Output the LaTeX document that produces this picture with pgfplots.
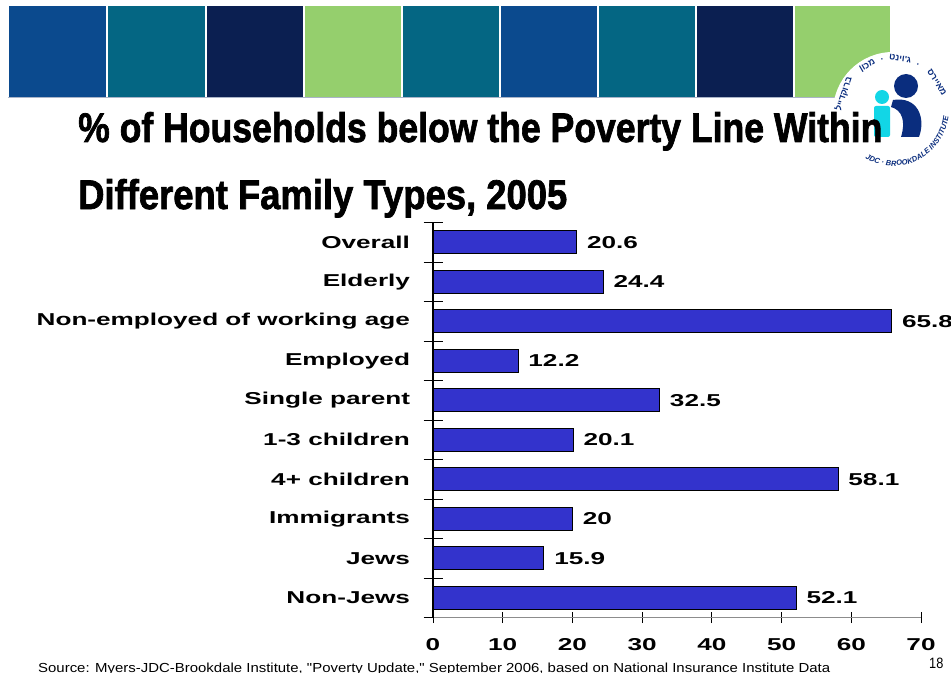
\documentclass[border=0pt]{standalone}
\usepackage{graphicx}
\usepackage{pgfplots}
\pgfplotsset{compat=1.18}
\usepackage{fontspec}
\setmainfont{Liberation Sans}
\usetikzlibrary{decorations.text,calc}
\TeXXeTstate=1
\newfontfamily\lblfont[FakeStretch=1.52]{Liberation Sans}
\newfontface\titlefont[FakeBold=1.8]{Liberation Sans Bold}
\newfontfamily\hebfont[Script=Hebrew]{Liberation Sans}
\newfontfamily\narrowfont[FakeStretch=0.85]{Liberation Sans}
\newcommand\lblsize{\fontsize{17.2bp}{20bp}\selectfont}
\definecolor{cblue}{HTML}{0B4A8E}
\definecolor{cteal}{HTML}{046683}
\definecolor{cnavy}{HTML}{0B1F51}
\definecolor{cgreen}{HTML}{95CF6D}
\definecolor{barblue}{HTML}{3333CC}
\definecolor{logonavy}{HTML}{0A2D7E}
\definecolor{logocyan}{HTML}{12D6E6}
\newcommand\hebword[2]{\node[rotate=#1-90, inner sep=0, anchor=base, text=logonavy, font=\hebfont\bfseries\fontsize{9bp}{10bp}\selectfont] at ($(893bp,-110bp)+(#1:49bp)$) {\beginR #2\endR};}
\begin{document}
\begin{tikzpicture}[x=1bp,y=1bp]
\path[use as bounding box] (0,0) rectangle (951,-673);
\fill[white] (0,0) rectangle (951,-673);
% banner
\foreach \xa/\xb/\c in {8/107/cblue,107/206/cteal,206/304/cnavy,304/402/cgreen,402/500/cteal,500/598/cblue,598/696/cteal,696/794/cnavy,794/891/cgreen}
  \fill[\c] (\xa+0.8,-6) rectangle (\xb-0.8,-97);
\draw[color={rgb,255:red,170;green,180;blue,200}, line width=1.2bp] (8,-97.6) -- (891,-97.6);
% logo
\fill[white] (893,-112) circle (60);
\fill[logonavy] (906,-86) circle (12);
\fill[logonavy] (893,-100) .. controls (918,-96) and (926,-118) .. (919,-137) -- (901,-137) .. controls (906,-121) and (902,-110) .. (891,-107) -- cycle;
\fill[logocyan] (882,-97) circle (7);
\fill[logocyan, rounded corners=2bp] (874,-106) rectangle (890,-137);
\hebword{162}{ברוקדייל}
\hebword{120}{מכון}
\hebword{102}{·}
\hebword{82}{ג'וינט}
\hebword{61}{·}
\hebword{32}{מאיירס}
\path[decorate, decoration={text along path, text align=center,
  text={|\fontsize{7.5bp}{8bp}\selectfont\bfseries\itshape\color{logonavy}|JDC · BROOKDALE INSTITUTE}}]
  (893,-110) ++(212:56) arc[start angle=212, end angle=382, radius=56];
% title
\node[anchor=base west, inner sep=0] at (78,-142) {\resizebox{804bp}{30bp}{\titlefont\% of Households below the Poverty Line Within}};
\node[anchor=base west, inner sep=0] at (78,-209) {\resizebox{489bp}{30bp}{\titlefont Different Family Types, 2005}};
% chart
\begin{axis}[
  at={(433bp,-617.5bp)}, anchor=south west,
  scale only axis, width=488bp, height=395bp,
  xmin=0, xmax=70, ymin=-0.5, ymax=9.5,
  xbar, bar width=23bp, clip=false,
  axis lines*=left,
  axis line style={-},
  x axis line style={draw={rgb,255:red,140;green,140;blue,140}, line width=0.8bp},
  y axis line style={draw=black, line width=1.3bp},
  xtick={0,10,...,70},
  ytick={0,...,9},
  yticklabels={Non-Jews,Jews,Immigrants,4+ children,1-3 children,Single parent,Employed,Non-employed of working age,Elderly,Overall},
  minor ytick={-0.5,0.5,...,9.5},
  tick align=center,
  major tick length=11bp,
  minor tick length=19bp,
  major y tick style={draw=none},
  minor y tick style={draw=black, line width=0.8bp},
  major x tick style={draw=black, line width=0.8bp},
  /pgf/number format/assume math mode=true,
  tick label style={font=\lblfont\bfseries\lblsize, text=black},
  yticklabel style={anchor=east, xshift=-14bp},
  xticklabel style={anchor=north, yshift=-12bp},
  nodes near coords,
  nodes near coords style={anchor=west, inner sep=0pt, xshift=10bp, font=\lblfont\bfseries\lblsize, text=black},
]
\addplot[fill=barblue, draw=black, line width=0.8bp] coordinates {
  (52.1,0) (15.9,1) (20,2) (58.1,3) (20.1,4) (32.5,5) (12.2,6) (65.8,7) (24.4,8) (20.6,9)};
\end{axis}
% footer
\node[anchor=base west, inner sep=0] at (38,-672.5) {\resizebox{792bp}{9.5bp}{\narrowfont Source: Myers-JDC-Brookdale Institute, "Poverty Update," September 2006, based on National Insurance Institute Data}};
\node[anchor=base west, inner sep=0] at (929,-668) {\narrowfont\fontsize{15bp}{16bp}\selectfont 18};
\end{tikzpicture}
\end{document}
